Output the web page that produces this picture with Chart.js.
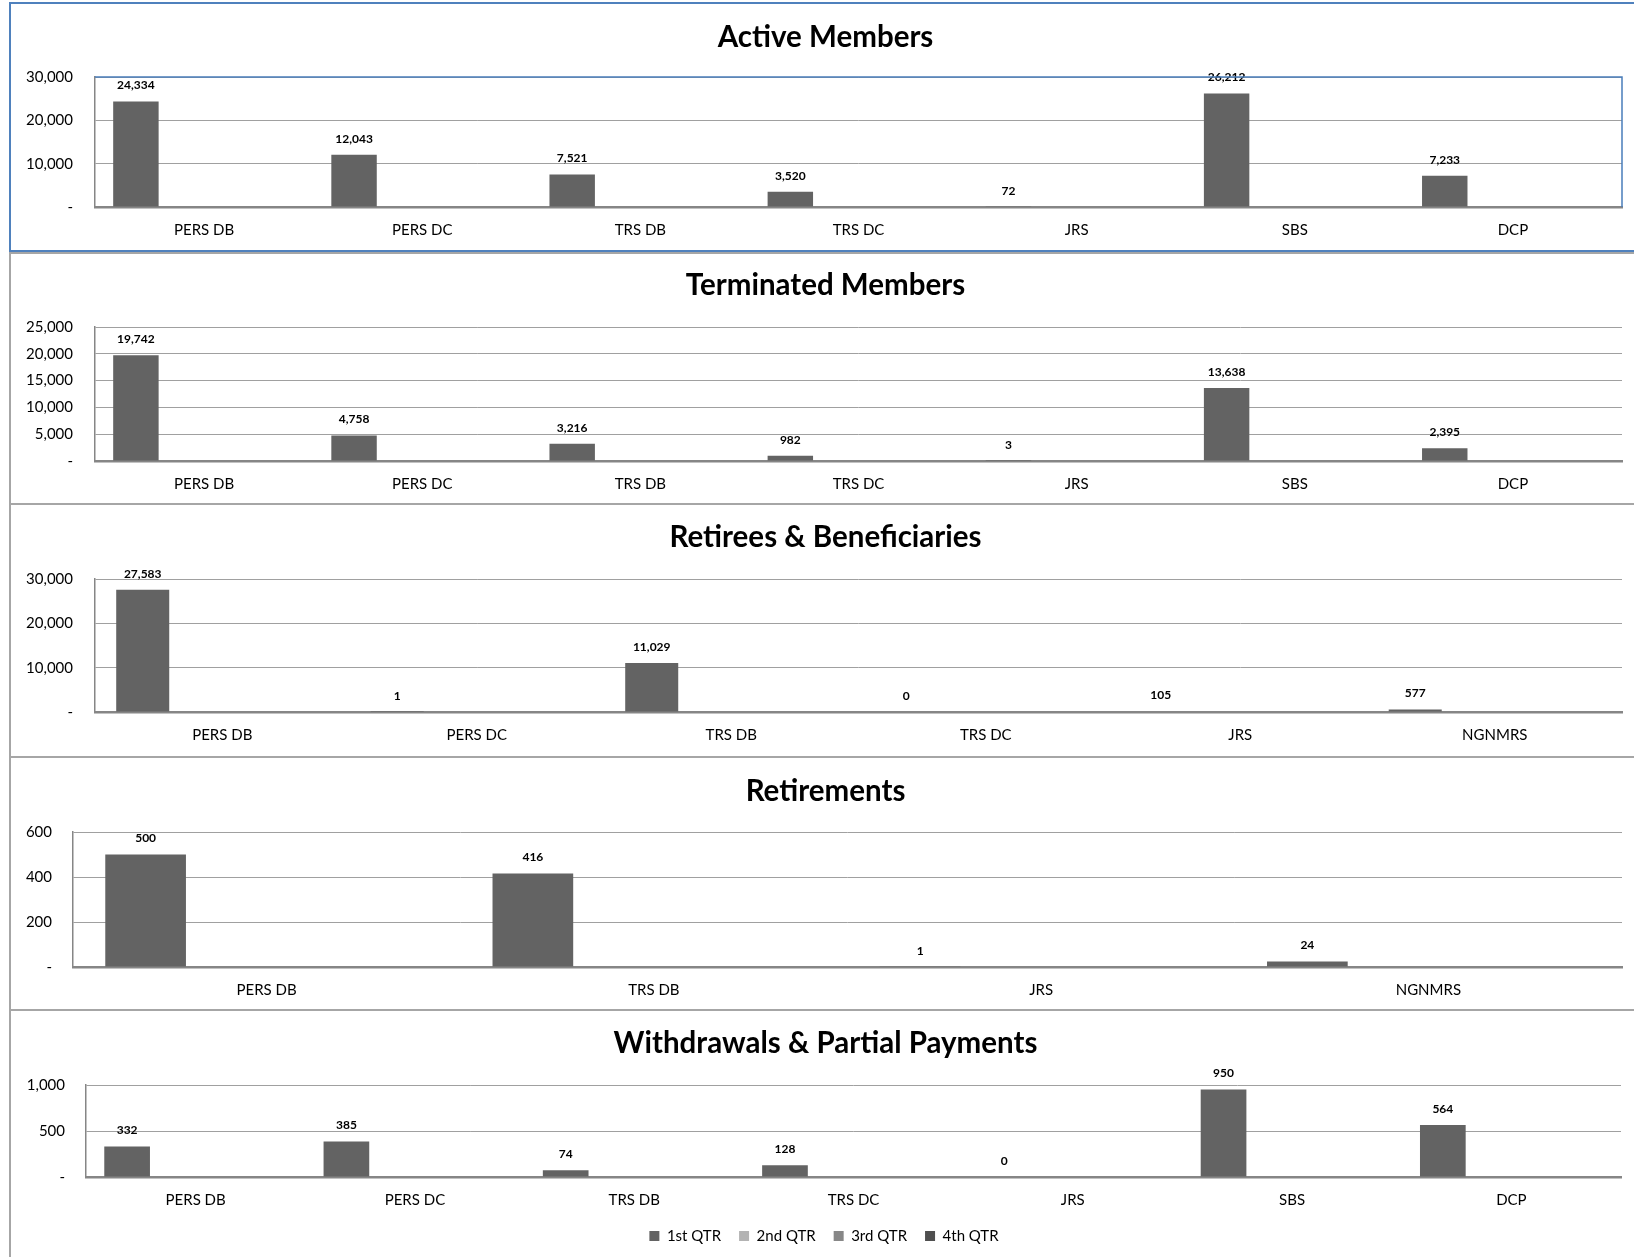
<!DOCTYPE html>
<html>
<head>
<meta charset="utf-8">
<script src="https://cdn.jsdelivr.net/npm/chart.js@4.4.1/dist/chart.umd.min.js"></script>
<style>
  html, body { margin: 0; padding: 0; background: #fff; overflow: hidden; }
  body { position: relative; width: 1634px; height: 1257px; }
  .frame { position: absolute; left: 9px; width: 1700px; box-sizing: border-box; border: 2px solid #a6a6a6; }
  canvas { position: absolute; }
</style>
</head>
<body>
<script>
// ---- Series and categories ----
const quarters = ['1st QTR', '2nd QTR', '3rd QTR', '4th QTR'];
const quarterColors = ['#636363', '#b3b3b3', '#878787', '#4f4f4f'];

const planCategories = ['PERS DB', 'PERS DC', 'TRS DB', 'TRS DC', 'JRS', 'SBS', 'DCP'];
const retireeCategories = ['PERS DB', 'PERS DC', 'TRS DB', 'TRS DC', 'JRS', 'NGNMRS'];
const retirementCategories = ['PERS DB', 'TRS DB', 'JRS', 'NGNMRS'];

const activeMembers = [24334, 12043, 7521, 3520, 72, 26212, 7233];
const terminatedMembers = [19742, 4758, 3216, 982, 3, 13638, 2395];
const retireesBeneficiaries = [27583, 1, 11029, 0, 105, 577];
const retirements = [500, 416, 1, 24];
const withdrawalsPartial = [332, 385, 74, 128, 0, 950, 564];

// y-axis ranges (max, step) for each panel
const activeTicks = [30000, 10000];
const terminatedTicks = [25000, 5000];
const retireeTicks = [30000, 10000];
const retirementTicks = [600, 200];
const withdrawalTicks = [1000, 500];

// ---- Panel layout (page pixels) ----
const panels = [
  { title: 'Active Members', labels: planCategories, values: activeMembers, ticks: activeTicks,
    left: 0, top: 3, height: 248, titleY: 34.5, plotTop: 74, plotBottom: 204, plotLeft: 95, plotRight: 1622,
    frame: { top: 2, height: 250, color: '#4f81bd' }, selected: true },
  { title: 'Terminated Members', labels: planCategories, values: terminatedMembers, ticks: terminatedTicks,
    left: 0, top: 252, height: 252, titleY: 33.5, plotTop: 75, plotBottom: 209, plotLeft: 95, plotRight: 1622,
    frame: { top: 252, height: 253, color: '#a6a6a6' } },
  { title: 'Retirees & Beneficiaries', labels: retireeCategories, values: retireesBeneficiaries, ticks: retireeTicks,
    left: 0, top: 504, height: 253, titleY: 33, plotTop: 75, plotBottom: 208, plotLeft: 95, plotRight: 1622,
    frame: { top: 503, height: 255, color: '#a6a6a6' } },
  { title: 'Retirements', labels: retirementCategories, values: retirements, ticks: retirementTicks,
    left: 0, top: 757, height: 253, titleY: 34, plotTop: 75, plotBottom: 210, plotLeft: 73, plotRight: 1622,
    frame: { top: 756, height: 255, color: '#a6a6a6' } },
  { title: 'Withdrawals & Partial Payments', labels: planCategories, values: withdrawalsPartial, ticks: withdrawalTicks,
    left: 27, top: 1011, height: 246, titleY: 32, plotTop: 74, plotBottom: 166, plotLeft: 86, plotRight: 1621,
    frame: { top: 1009, height: 400, color: '#a6a6a6' }, legend: true }
];

const PAGE_W = 1634;
const TITLE_X = 825.5;
const FONT = 'Lato, "Open Sans", sans-serif';

Chart.defaults.font.family = FONT;
Chart.defaults.color = '#000';

// Panel heading, centred over the whole chart object
const panelTitle = {
  id: 'panelTitle',
  afterDraw(chart, args, opts) {
    if (!opts || !opts.text) return;
    const ctx = chart.ctx;
    ctx.save();
    ctx.font = 'bold 29.5px ' + FONT;
    ctx.fillStyle = '#000';
    ctx.textAlign = 'center';
    ctx.textBaseline = 'middle';
    ctx.fillText(opts.text, opts.x, opts.y);
    ctx.restore();
  }
};

// Value labels printed above each first-quarter bar
const barValueLabels = {
  id: 'barValueLabels',
  afterDatasetsDraw(chart) {
    const ctx = chart.ctx;
    const meta = chart.getDatasetMeta(0);
    const data = chart.data.datasets[0].data;
    ctx.save();
    ctx.font = 'bold 12px ' + FONT;
    ctx.fillStyle = '#000';
    ctx.textAlign = 'center';
    ctx.textBaseline = 'middle';
    meta.data.forEach((bar, i) => {
      const v = data[i];
      if (v === null || v === undefined) return;
      ctx.fillText(v.toLocaleString('en-US'), bar.x, bar.y - 16);
    });
    ctx.restore();
  }
};

// Highlighted plot-area outline (top and right edges)
const plotOutline = {
  id: 'plotOutline',
  afterDraw(chart, args, opts) {
    if (!opts || !opts.color) return;
    const { left, top, right, bottom } = chart.chartArea;
    const ctx = chart.ctx;
    ctx.save();
    ctx.strokeStyle = opts.color;
    ctx.lineWidth = 1.5;
    ctx.beginPath();
    ctx.moveTo(left, top);
    ctx.lineTo(right, top);
    ctx.lineTo(right, bottom);
    ctx.stroke();
    ctx.restore();
  }
};

panels.forEach((p) => {
  const frame = document.createElement('div');
  frame.className = 'frame';
  frame.style.top = p.frame.top + 'px';
  frame.style.height = p.frame.height + 'px';
  frame.style.borderColor = p.frame.color;
  document.body.appendChild(frame);

  const width = PAGE_W - p.left;
  const canvas = document.createElement('canvas');
  canvas.width = width;
  canvas.height = p.height;
  canvas.style.width = width + 'px';
  canvas.style.height = p.height + 'px';
  canvas.style.left = p.left + 'px';
  canvas.style.top = p.top + 'px';
  document.body.appendChild(canvas);

  const padRight = PAGE_W - p.plotRight;

  // legend geometry (bottom panel only)
  const legendPad = 18;
  const legendHeight = 15 + legendPad + 10;
  const legendTextY = 225;
  const legendTop = legendTextY - legendPad - 7.5;
  const padBottom = p.legend ? p.height - (legendTop + legendHeight) : 0;
  const xAxisHeight = p.legend ? legendTop - p.plotBottom : p.height - p.plotBottom;

  const datasets = quarters.map((q, i) => ({
    label: q,
    data: i === 0 ? p.values : p.values.map(() => null),
    backgroundColor: quarterColors[i],
    borderWidth: 0,
    categoryPercentage: 4 / 4.8,
    barPercentage: 1
  }));

  new Chart(canvas, {
    type: 'bar',
    data: { labels: p.labels, datasets },
    plugins: [barValueLabels, plotOutline, panelTitle],
    options: {
      responsive: false,
      devicePixelRatio: 1,
      animation: false,
      layout: { padding: { left: 0, right: padRight, top: p.plotTop, bottom: padBottom } },
      plugins: {
        title: { display: false },
        panelTitle: { text: p.title, x: TITLE_X - p.left, y: p.titleY },
        legend: {
          display: !!p.legend,
          position: 'bottom',
          labels: {
            boxWidth: 10, boxHeight: 10, padding: legendPad,
            color: '#000', font: { size: 15 }
          }
        },
        tooltip: { enabled: false },
        plotOutline: { color: p.selected ? '#4a7ebb' : null }
      },
      scales: {
        x: {
          grid: { display: false, drawTicks: false },
          border: { display: true, color: '#868686', width: 2.5 },
          ticks: { autoSkip: false, maxRotation: 0, padding: 14, color: '#000', font: { size: 15 } },
          afterFit(scale) { scale.height = xAxisHeight; }
        },
        y: {
          min: 0,
          max: p.ticks[0],
          grid: { color: '#a0a0a0', lineWidth: 1, drawTicks: false },
          border: { display: true, color: '#868686', width: 1.5 },
          ticks: {
            stepSize: p.ticks[1],
            padding: p.plotLeft === 95 ? 22 : 21,
            color: '#000',
            font: { size: 15 },
            callback: (v) => (v === 0 ? '-' : v.toLocaleString('en-US'))
          },
          afterFit(scale) { scale.width = p.plotLeft - p.left; }
        }
      }
    }
  });
});
</script>
</body>
</html>
